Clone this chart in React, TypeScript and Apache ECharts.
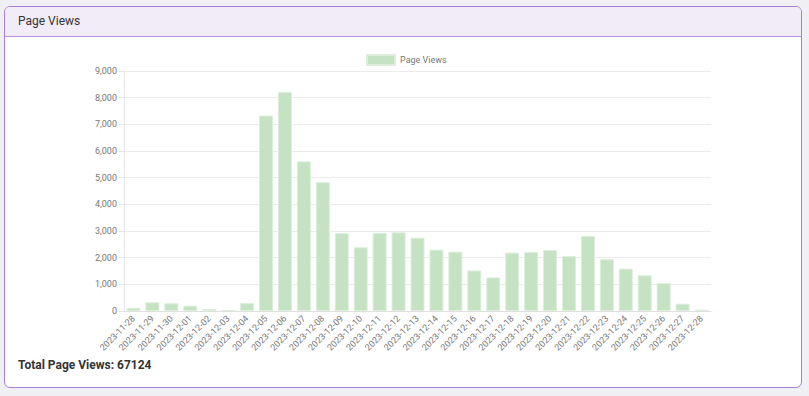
import React, { useEffect, useRef } from "react";
import * as echarts from "echarts";

const categories = [
  "2023-11-28", "2023-11-29", "2023-11-30", "2023-12-01", "2023-12-02", "2023-12-03",
  "2023-12-04", "2023-12-05", "2023-12-06", "2023-12-07", "2023-12-08", "2023-12-09",
  "2023-12-10", "2023-12-11", "2023-12-12", "2023-12-13", "2023-12-14", "2023-12-15",
  "2023-12-16", "2023-12-17", "2023-12-18", "2023-12-19", "2023-12-20", "2023-12-21",
  "2023-12-22", "2023-12-23", "2023-12-24", "2023-12-25", "2023-12-26", "2023-12-27",
  "2023-12-28",
];

const pageViews = [
  120, 330, 290, 200, 75, 40, 300, 7330, 8210, 5610, 4830, 2920,
  2390, 2930, 2950, 2750, 2300, 2225, 1520, 1260, 2190, 2210, 2290, 2060,
  2810, 1940, 1590, 1340, 1050, 275, 50,
];

const seriesName = "Page Views";
const cardTitle = "Page Views";
const totalLabel = "Total Page Views: 67124";

export default function App() {
  const ref = useRef<HTMLDivElement>(null);

  useEffect(() => {
    if (!ref.current) return;
    const chart = echarts.init(ref.current, null, { renderer: "svg" });
    chart.setOption({
      animation: false,
      legend: {
        top: 54,
        left: 366,
        itemWidth: 28,
        itemHeight: 10,
        itemGap: 6,
        padding: 0,
        data: [seriesName],
        icon: "rect",
        textStyle: { color: "#777", fontSize: 9, fontFamily: "Roboto, Arial, sans-serif" },
      },
      grid: { left: 124, right: 98, top: 71, bottom: 85, containLabel: false },
      xAxis: {
        type: "category",
        data: categories,
        axisLine: { show: true, lineStyle: { color: "#e0e0e0" } },
        axisTick: { show: false },
        axisLabel: {
          rotate: 45,
          color: "#777",
          fontSize: 9,
          margin: 6,
          interval: 0,
          fontFamily: "Roboto, Arial, sans-serif",
        },
        splitLine: { show: false },
      },
      yAxis: {
        type: "value",
        min: 0,
        max: 9000,
        interval: 1000,
        axisLine: { show: true, lineStyle: { color: "#e6e6e6" } },
        axisTick: { show: true, length: 5, lineStyle: { color: "#e6e6e6" } },
        axisLabel: {
          color: "#777",
          fontSize: 9,
          margin: 7,
          fontFamily: "Roboto, Arial, sans-serif",
          formatter: (v: number) => v.toLocaleString("en-US"),
        },
        splitLine: { show: true, lineStyle: { color: "#ebebeb" } },
      },
      series: [
        {
          name: seriesName,
          type: "bar",
          data: pageViews,
          barWidth: 14,
          itemStyle: {
            color: "#c5e2c3",
            borderColor: "#dcefdb",
            borderWidth: 1,
          },
        },
      ],
    });
    return () => chart.dispose();
  }, []);

  return (
    <div
      style={{
        position: "absolute",
        left: 0,
        top: 0,
        width: 809,
        height: 396,
        background: "#f0eff4",
        fontFamily: "Roboto, Arial, sans-serif",
        overflow: "hidden",
      }}
    >
      <div
        style={{
          position: "absolute",
          left: 4,
          top: 6,
          width: 798,
          height: 382,
          boxSizing: "border-box",
          border: "1px solid #a97fd6",
          borderRadius: 6,
          background: "#ffffff",
          overflow: "hidden",
        }}
      >
        <div
          style={{
            height: 30,
            boxSizing: "border-box",
            background: "#f2ecf8",
            borderBottom: "1px solid #b894de",
            paddingLeft: 13,
            lineHeight: "29px",
            fontSize: 12,
            color: "#333",
          }}
        >
          {cardTitle}
        </div>
        <div
          style={{
            position: "absolute",
            left: 13,
            top: 351,
            fontSize: 12,
            fontWeight: 700,
            color: "#333",
          }}
        >
          {totalLabel}
        </div>
      </div>
      <div
        ref={ref}
        style={{ position: "absolute", left: 0, top: 0, width: 809, height: 396 }}
      />
    </div>
  );
}
